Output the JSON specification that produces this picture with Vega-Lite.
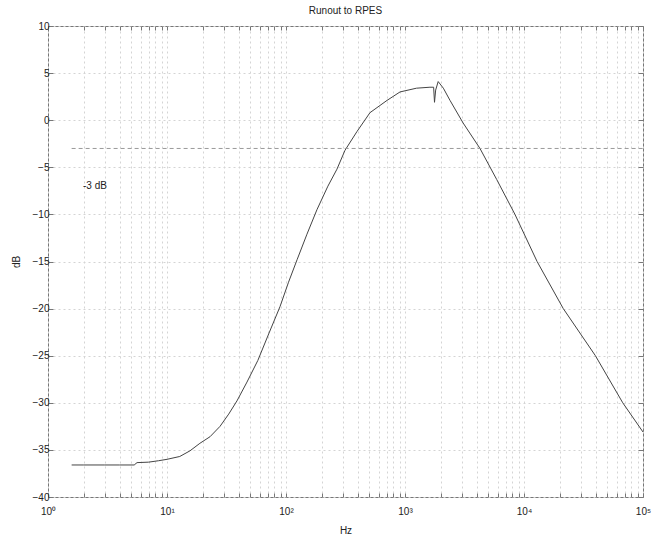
{
  "$schema": "https://vega.github.io/schema/vega-lite/v6.json",
  "width": 595,
  "height": 471,
  "autosize": "none",
  "padding": {"left": 48, "top": 26, "right": 9, "bottom": 39},
  "title": {"text": "Runout to RPES", "fontSize": 10, "fontWeight": "normal", "font": "Liberation Sans", "color": "#222", "offset": 5},
  "config": {
    "view": {"stroke": "#777", "strokeWidth": 1},
    "font": "Liberation Sans",
    "axis": {
      "domain": false,
      "labelFont": "Liberation Sans",
      "labelFontSize": 10,
      "labelColor": "#222",
      "titleFont": "Liberation Sans",
      "titleFontSize": 10,
      "titleFontWeight": "normal",
      "titleColor": "#222",
      "gridColor": "#d4d4d4",
      "gridDash": [2, 3],
      "gridWidth": 1,
      "tickColor": "#777"
    }
  },
  "resolve": {"axis": {"x": "independent", "y": "independent"}},
  "layer": [
    {
      "data": {"values": [
        {"f": 1.58, "db": -36.6}, {"f": 2, "db": -36.6}, {"f": 3, "db": -36.6}, {"f": 4, "db": -36.6},
        {"f": 5.3, "db": -36.6}, {"f": 5.6, "db": -36.35}, {"f": 7, "db": -36.3}, {"f": 8.5, "db": -36.15},
        {"f": 10, "db": -36.0}, {"f": 12.8, "db": -35.7}, {"f": 15.6, "db": -35.1}, {"f": 18.9, "db": -34.3},
        {"f": 23, "db": -33.6}, {"f": 27.9, "db": -32.5}, {"f": 33, "db": -31.2}, {"f": 38.7, "db": -29.8},
        {"f": 47, "db": -27.8}, {"f": 58, "db": -25.5}, {"f": 72, "db": -22.6}, {"f": 89, "db": -19.8},
        {"f": 105, "db": -17.2}, {"f": 124, "db": -14.8}, {"f": 150, "db": -12.1}, {"f": 182, "db": -9.5},
        {"f": 225, "db": -7.0}, {"f": 268, "db": -5.2}, {"f": 313, "db": -3.2}, {"f": 395, "db": -1.2},
        {"f": 508, "db": 0.8}, {"f": 706, "db": 2.1}, {"f": 908, "db": 3.0}, {"f": 1250, "db": 3.4},
        {"f": 1620, "db": 3.5}, {"f": 1740, "db": 3.5}, {"f": 1770, "db": 1.9}, {"f": 1810, "db": 3.2},
        {"f": 1900, "db": 4.1}, {"f": 2100, "db": 3.4}, {"f": 2390, "db": 2.1}, {"f": 3080, "db": -0.3},
        {"f": 4266, "db": -3.0}, {"f": 5900, "db": -6.3}, {"f": 8395, "db": -10.0}, {"f": 12882, "db": -15.0},
        {"f": 21380, "db": -20.0}, {"f": 39810, "db": -25.0}, {"f": 67600, "db": -30.0}, {"f": 100000, "db": -33.1}
      ]},
      "mark": {"type": "line", "color": "#444", "strokeWidth": 1},
      "encoding": {
        "x": {
          "field": "f", "type": "quantitative",
          "scale": {"type": "log", "domain": [1, 100000], "nice": false},
          "axis": {
            "orient": "bottom",
            "title": "Hz",
            "titlePadding": 9,
            "values": [1,2,3,4,5,6,7,8,9,10,20,30,40,50,60,70,80,90,100,200,300,400,500,600,700,800,900,1000,2000,3000,4000,5000,6000,7000,8000,9000,10000,20000,30000,40000,50000,60000,70000,80000,90000,100000],
            "labelExpr": "indexof([1,10,100,1000,10000,100000], datum.value) >= 0 ? '10' + ['⁰','¹','²','³','⁴','⁵'][round(log(datum.value)/LN10)] : ''",
            "grid": true,
            "tickSize": -4,
            "labelPadding": 13,
            "labelFlush": false,
            "labelOverlap": false
          }
        },
        "y": {
          "field": "db", "type": "quantitative",
          "scale": {"domain": [-40, 10], "nice": false},
          "axis": {
            "orient": "left",
            "title": "dB",
            "values": [-40,-35,-30,-25,-20,-15,-10,-5,0,5,10],
            "grid": true,
            "tickSize": -5,
            "labelPadding": 4,
            "titlePadding": 11
          }
        }
      }
    },
    {
      "data": {"values": [{"f0": 1.58, "f1": 100000, "v": -3}]},
      "mark": {"type": "rule", "color": "#999", "strokeDash": [4, 3], "strokeWidth": 1},
      "encoding": {
        "x": {"field": "f0", "type": "quantitative",
          "axis": {"orient": "top", "title": null, "labels": false, "grid": false, "tickSize": -4,
            "values": [1,2,3,4,5,6,7,8,9,10,20,30,40,50,60,70,80,90,100,200,300,400,500,600,700,800,900,1000,2000,3000,4000,5000,6000,7000,8000,9000,10000,20000,30000,40000,50000,60000,70000,80000,90000,100000]}},
        "x2": {"field": "f1"},
        "y": {"field": "v", "type": "quantitative",
          "axis": {"orient": "right", "title": null, "labels": false, "grid": false, "tickSize": -5,
            "values": [-40,-35,-30,-25,-20,-15,-10,-5,0,5,10]}}
      }
    },
    {
      "data": {"values": [{"f": 1.97, "v": -7.0, "label": "-3 dB"}]},
      "mark": {"type": "text", "align": "left", "baseline": "middle", "fontSize": 10, "font": "Liberation Sans", "color": "#222"},
      "encoding": {
        "x": {"field": "f", "type": "quantitative", "axis": null},
        "y": {"field": "v", "type": "quantitative", "axis": null},
        "text": {"field": "label"}
      }
    }
  ]
}
